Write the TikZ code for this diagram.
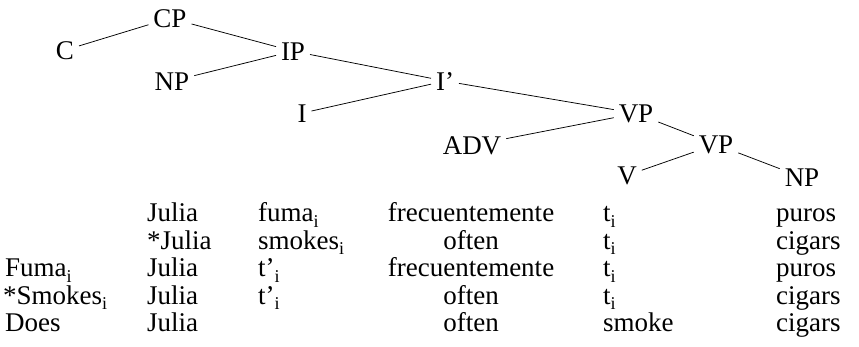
\documentclass[tikz,border=0pt]{standalone}
\usepackage{fontspec}
\setmainfont{Liberation Serif}
\newcommand\sbi{\smash{\raisebox{-5.5pt}{\fontsize{18}{18}\selectfont i}}}
\begin{document}
\begin{tikzpicture}[x=1pt,y=-1pt,
  cat/.style={inner sep=0pt,outer sep=5pt,anchor=base,font=\fontsize{27}{30}\selectfont},
  wd/.style={inner sep=0pt,anchor=base west,font=\fontsize{27}{30}\selectfont},
  wc/.style={inner sep=0pt,anchor=base,font=\fontsize{27}{30}\selectfont},
  br/.style={line width=0.75pt}]
\useasboundingbox (0,0) rectangle (859,346);
% tree
\node[cat] (cp) at (170,27) {CP};
\node[cat] (c) at (65,59) {C};
\node[cat] (ip) at (293,60) {IP};
\node[cat] (np1) at (172,90) {NP};
\node[cat] (ib) at (445,90) {I’};
\node[cat] (i) at (302,122) {I};
\node[cat] (vp1) at (636,122) {VP};
\node[cat] (adv) at (472,154) {ADV};
\node[cat] (vp2) at (716,153) {VP};
\node[cat] (v) at (627,184) {V};
\node[cat] (np2) at (802,186) {NP};
\draw[br] (cp) -- (c);
\draw[br] (cp) -- (ip);
\draw[br] (ip) -- (np1);
\draw[br] (ip) -- (ib);
\draw[br] (ib) -- (i);
\draw[br] (ib) -- (vp1);
\draw[br] (vp1) -- (adv);
\draw[br] (vp1) -- (vp2);
\draw[br] (vp2) -- (v);
\draw[br] (vp2) -- (np2);
% rows
\node[wd] (r1a) at (147,221.5) {Julia};
\node[wd] (r1b) at (258,221.5) {fuma\sbi};
\node[wc] (r1c) at (471,221.5) {frecuentemente};
\node[wd] (r1d) at (603,221.5) {t\sbi};
\node[wd] (r1e) at (776,221.5) {puros};
\node[wd] (r2a) at (147,249) {*Julia};
\node[wd] (r2b) at (258,249) {smokes\sbi};
\node[wc] (r2c) at (471,249) {often};
\node[wd] (r2d) at (603,249) {t\sbi};
\node[wd] (r2e) at (776,249) {cigars};
\node[wd] (r3z) at (5,276.5) {Fuma\sbi};
\node[wd] (r3a) at (147,276.5) {Julia};
\node[wd] (r3b) at (258,276.5) {t’\sbi};
\node[wc] (r3c) at (471,276.5) {frecuentemente};
\node[wd] (r3d) at (603,276.5) {t\sbi};
\node[wd] (r3e) at (776,276.5) {puros};
\node[wd] (r4z) at (3,304) {*Smokes\sbi};
\node[wd] (r4a) at (147,304) {Julia};
\node[wd] (r4b) at (258,304) {t’\sbi};
\node[wc] (r4c) at (471,304) {often};
\node[wd] (r4d) at (603,304) {t\sbi};
\node[wd] (r4e) at (776,304) {cigars};
\node[wd] (r5z) at (5,331.5) {Does};
\node[wd] (r5a) at (147,331.5) {Julia};
\node[wc] (r5c) at (471,331.5) {often};
\node[wd] (r5d) at (603,331.5) {smoke};
\node[wd] (r5e) at (776,331.5) {cigars};
\end{tikzpicture}
\end{document}
